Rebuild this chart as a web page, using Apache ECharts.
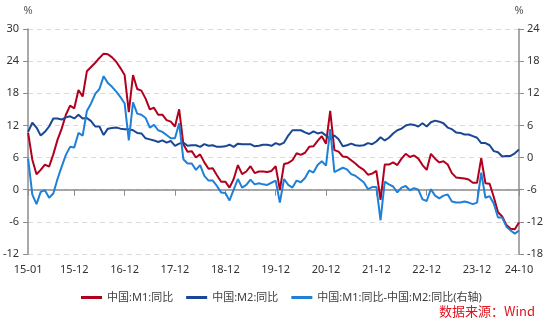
<!DOCTYPE html>
<html>
<head>
<meta charset="utf-8">
<script src="https://cdn.jsdelivr.net/npm/echarts@6/dist/echarts.min.js"></script>
<style>
  html, body { margin: 0; padding: 0; background: #fff; }
  #chart { width: 550px; height: 323px; }
</style>
</head>
<body>
<div id="chart"></div>
<script>
// Monthly categories 2015-01 .. 2024-10
const categories = [];
for (let y = 15; y <= 24; y++) {
  for (let m = 1; m <= 12; m++) {
    if (y === 24 && m > 10) break;
    categories.push(y + '-' + String(m).padStart(2, '0'));
  }
}

// Labels shown on the time axis
const tickLabels = ['15-01', '15-12', '16-12', '17-12', '18-12', '19-12', '20-12', '21-12', '22-12', '23-12', '24-10'];

// M1 year-on-year growth, %
const m1 = [
  10.6, 5.6, 2.9, 3.7, 4.7, 4.3, 6.6, 9.3, 11.4, 14.0, 15.7, 15.2,
  18.6, 17.4, 22.1, 22.9, 23.7, 24.6, 25.4, 25.3, 24.7, 23.9, 22.7, 21.4,
  14.5, 21.4, 18.8, 18.5, 17.0, 15.0, 15.3, 14.0, 14.0, 13.0, 12.7, 11.8,
  15.0, 8.5, 7.1, 7.2, 6.0, 6.6, 5.1, 3.9, 4.0, 2.7, 1.5, 1.5,
  0.4, 2.0, 4.6, 2.9, 3.4, 4.4, 3.1, 3.4, 3.4, 3.3, 3.5, 4.4,
  0.0, 4.8, 5.0, 5.5, 6.8, 6.5, 6.9, 8.0, 8.1, 9.1, 10.0, 8.6,
  14.7, 7.4, 7.1, 6.2, 6.1, 5.5, 4.9, 4.2, 3.7, 2.8, 3.0, 3.5,
  -1.9, 4.7, 4.7, 5.1, 4.6, 5.8, 6.7, 6.1, 6.4, 5.8, 4.6, 3.7,
  6.7, 5.8, 5.1, 5.3, 4.7, 3.1, 2.3, 2.2, 2.1, 1.9, 1.3, 1.3,
  5.9, 1.2, 1.1, -1.4, -4.2, -5.0, -6.6, -7.3, -7.4, -6.1
];

// M2 year-on-year growth, %
const m2 = [
  10.8, 12.5, 11.6, 10.1, 10.8, 11.8, 13.3, 13.3, 13.1, 13.5, 13.7, 13.3,
  14.0, 13.3, 13.4, 12.8, 11.8, 11.8, 10.2, 11.4, 11.5, 11.6, 11.4, 11.3,
  11.3, 11.1, 10.6, 10.5, 9.6, 9.4, 9.2, 8.9, 9.2, 8.8, 9.1, 8.2,
  8.6, 8.8, 8.2, 8.3, 8.3, 8.0, 8.5, 8.2, 8.3, 8.0, 8.0, 8.1,
  8.4, 8.0, 8.6, 8.5, 8.5, 8.5, 8.1, 8.2, 8.4, 8.4, 8.2, 8.7,
  8.4, 8.8, 10.1, 11.1, 11.1, 11.1, 10.7, 10.4, 10.9, 10.5, 10.7, 10.1,
  9.4, 10.1, 9.4, 8.1, 8.3, 8.6, 8.3, 8.2, 8.3, 8.7, 8.5, 9.0,
  9.8, 9.2, 9.7, 10.5, 11.1, 11.4, 12.0, 12.2, 12.1, 11.8, 12.4, 11.8,
  12.6, 12.9, 12.7, 12.4, 11.6, 11.3, 10.7, 10.6, 10.3, 10.3, 10.0, 9.7,
  8.7, 8.7, 8.3, 7.2, 7.0, 6.2, 6.3, 6.3, 6.8, 7.5
];

// M1 minus M2 spread, percentage points (right axis)
const spread = [
  -0.2, -6.9, -8.7, -6.4, -6.1, -7.5, -6.7, -4.0, -1.7, 0.5, 2.0, 1.9,
  4.6, 4.1, 8.7, 10.1, 11.9, 12.8, 15.2, 13.9, 13.2, 12.3, 11.3, 10.1,
  3.2, 10.3, 8.2, 8.0, 7.4, 5.6, 6.1, 5.1, 4.8, 4.2, 3.6, 3.6,
  6.4, -0.3, -1.1, -1.1, -2.3, -1.4, -3.4, -4.3, -4.3, -5.3, -6.5, -6.6,
  -8.0, -6.0, -4.0, -5.6, -5.1, -4.1, -5.0, -4.8, -5.0, -5.1, -4.7, -4.3,
  -8.4, -4.0, -5.1, -5.6, -4.3, -4.6, -3.8, -2.4, -2.8, -1.4, -0.7, -1.5,
  5.3, -2.7, -2.3, -1.9, -2.2, -3.1, -3.4, -4.0, -4.6, -5.9, -5.5, -5.5,
  -11.7, -4.5, -5.0, -5.4, -6.5, -5.6, -5.3, -6.1, -5.7, -6.0, -7.8, -8.1,
  -5.9, -7.1, -7.6, -7.1, -6.9, -8.2, -8.4, -8.4, -8.2, -8.4, -8.7, -8.4,
  -2.8, -7.5, -7.2, -8.6, -11.2, -11.2, -12.9, -13.6, -14.2, -13.6
];

const seriesNames = ['中国:M1:同比', '中国:M2:同比', '中国:M1:同比-中国:M2:同比(右轴)'];
const seriesColors = ['#B0001E', '#1A4694', '#1F80D8'];

const FONT = '"Noto Sans", "Noto Sans CJK SC", sans-serif';
const showTick = (idx, val) => tickLabels.indexOf(val) !== -1;

const axisLineStyle = { color: '#8C8C8C', width: 1.5 };

const chart = echarts.init(document.getElementById('chart'), null, { renderer: 'canvas' });

chart.setOption({
  animation: false,
  backgroundColor: '#fff',
  textStyle: { fontFamily: FONT },
  grid: { left: 28, right: 31, top: 29, bottom: 69, containLabel: false },
  legend: {
    left: 76,
    top: 287,
    itemWidth: 21,
    itemHeight: 3,
    itemGap: 13,
    icon: 'rect',
    textStyle: { fontSize: 11, color: '#404040', fontFamily: FONT },
    data: seriesNames
  },
  xAxis: {
    type: 'category',
    boundaryGap: false,
    data: categories,
    axisLine: { lineStyle: axisLineStyle },
    axisTick: { show: true, interval: showTick, length: 6, lineStyle: { color: '#8C8C8C', width: 1 } },
    axisLabel: { interval: showTick, margin: 10, fontSize: 11, color: '#333', fontFamily: FONT },
    splitLine: { show: false }
  },
  yAxis: [
    {
      type: 'value',
      min: -12, max: 30, interval: 6,
      name: '%',
      nameLocation: 'end',
      nameGap: 13,
      nameTextStyle: { fontSize: 11, color: '#555', fontFamily: FONT },
      axisLine: { show: true, lineStyle: axisLineStyle },
      axisTick: { show: true, length: 5, lineStyle: { color: '#8C8C8C' } },
      axisLabel: { margin: 9, fontSize: 11, color: '#333', fontFamily: FONT },
      splitLine: { show: true, lineStyle: { color: '#D9D9D9', type: [5, 4], width: 1 } }
    },
    {
      type: 'value',
      min: -18, max: 24, interval: 6,
      name: '%',
      nameLocation: 'end',
      nameGap: 13,
      nameTextStyle: { fontSize: 11, color: '#555', fontFamily: FONT },
      axisLine: { show: true, lineStyle: axisLineStyle },
      axisTick: { show: true, length: 5, lineStyle: { color: '#8C8C8C' } },
      axisLabel: { margin: 8, fontSize: 11, color: '#333', fontFamily: FONT },
      splitLine: { show: false }
    }
  ],
  series: [
    {
      name: seriesNames[0], type: 'line', yAxisIndex: 0, data: m1,
      showSymbol: false, symbol: 'none',
      lineStyle: { color: seriesColors[0], width: 2 }, itemStyle: { color: seriesColors[0] }
    },
    {
      name: seriesNames[1], type: 'line', yAxisIndex: 0, data: m2,
      showSymbol: false, symbol: 'none',
      lineStyle: { color: seriesColors[1], width: 2 }, itemStyle: { color: seriesColors[1] }
    },
    {
      name: seriesNames[2], type: 'line', yAxisIndex: 1, data: spread,
      showSymbol: false, symbol: 'none',
      lineStyle: { color: seriesColors[2], width: 2 }, itemStyle: { color: seriesColors[2] }
    }
  ],
  graphic: [
    {
      type: 'text',
      right: 15,
      top: 305,
      style: {
        text: '数据来源：Wind',
        fill: '#E0141E',
        font: '13px "Noto Sans CJK SC", "Noto Sans", sans-serif'
      }
    }
  ]
});
</script>
</body>
</html>
